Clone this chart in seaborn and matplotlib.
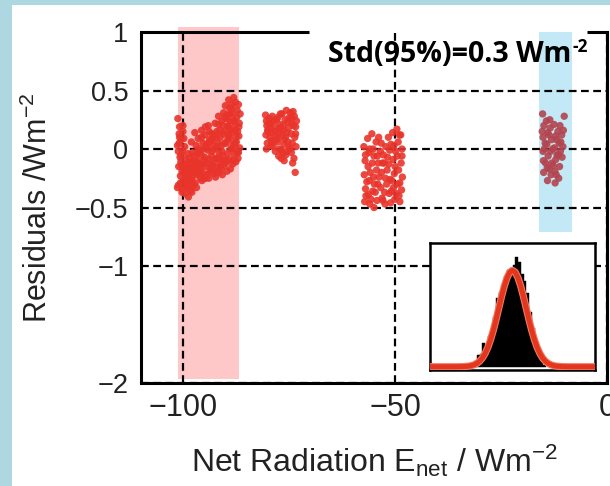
import matplotlib
matplotlib.use("Agg")
import matplotlib.pyplot as plt
import matplotlib.patheffects as pe
from matplotlib.patches import Rectangle
import pandas as pd
import seaborn as sns

# ---------------- data ----------------
# cluster 1 (around -94 W/m2)
x1 = [-101.3, -101.0, -101.4, -100.8, -101.1, -100.7, -101.2, -100.9,
      -100.5, -100.2, -100.6, -100.3, -100.0, -100.4, -100.1, -100.5,
      -99.7, -99.4, -99.8, -99.5, -99.2, -99.6, -99.3, -99.9,
      -98.9, -98.6, -99.0, -98.7, -98.4, -98.8, -98.5,
      -98.1, -97.8, -98.2, -97.9, -97.6, -98.0, -97.7,
      -97.3, -97.0, -97.4, -97.1, -96.8, -97.2,
      -96.5, -96.2, -96.6, -96.3, -96.0, -96.4,
      -95.7, -95.4, -95.8, -95.5, -95.2, -95.6,
      -94.9, -94.6, -95.0, -94.7, -94.4, -94.8,
      -94.1, -93.8, -94.2, -93.9, -93.6, -94.0,
      -93.3, -93.0, -93.4, -93.1, -92.8, -93.2,
      -92.5, -92.2, -92.6, -92.3, -92.0, -92.4, -92.1,
      -91.7, -91.4, -91.8, -91.5, -91.2, -91.6, -91.3,
      -90.9, -90.6, -91.0, -90.7, -90.4, -90.8, -90.5,
      -90.1, -89.8, -90.2, -89.9, -89.6, -90.0, -89.7, -89.5,
      -89.3, -89.0, -89.4, -89.1, -88.8, -89.2, -88.9, -88.7,
      -88.5, -88.2, -88.6, -88.3, -88.0, -88.4, -88.1, -87.9,
      -87.7, -87.4, -87.8, -87.5, -87.2, -87.6, -87.3,
      -87.0, -86.8, -86.9, -86.7, -87.1, -86.6,
      -101.0, -100.4, -99.9, -99.1, -98.3, -97.5, -96.7, -95.9, -95.1, -94.3,
      -93.5, -92.7, -91.9, -91.1, -90.3, -89.5, -88.7, -87.9, -87.2,
      -101.2, -100.7, -99.6, -98.9, -98.0, -97.2, -96.1, -95.3, -94.5, -93.7,
      -92.9, -92.0, -91.3, -90.5, -89.7, -88.9, -88.2, -87.6, -86.9,
      -100.9, -100.1, -99.4, -98.6, -97.8, -96.9, -96.0, -95.0, -94.1, -93.2,
      -92.4, -91.5, -90.7, -89.9, -89.1, -88.4, -87.7, -87.0,
      -101.4, -100.3, -99.2, -98.1, -97.0, -95.7, -94.8, -93.9, -92.6, -91.7,
      -90.9, -90.1, -89.3, -88.6, -87.8]
y1 = [0.26, 0.13, 0.03, -0.07, -0.15, -0.23, -0.31, 0.19,
      0.08, -0.02, -0.11, -0.19, -0.27, -0.34, 0.15, -0.05,
      0.02, -0.09, -0.17, -0.25, -0.32, -0.38, -0.13, 0.09,
      -0.04, -0.12, -0.20, -0.28, -0.36, -0.41, -0.08,
      0.06, -0.03, -0.16, -0.24, -0.31, -0.37, -0.10,
      0.14, 0.03, -0.06, -0.14, -0.22, -0.29,
      0.09, -0.02, -0.10, -0.18, -0.25, 0.00,
      0.16, 0.05, -0.05, -0.13, -0.21, -0.27,
      0.12, 0.01, -0.07, -0.15, -0.22, 0.19,
      0.20, 0.08, -0.01, -0.09, -0.17, -0.25,
      0.13, 0.03, -0.06, -0.14, -0.21, 0.08,
      0.22, 0.10, 0.00, -0.08, -0.16, -0.24, 0.15,
      0.28, 0.16, 0.05, -0.04, -0.12, -0.20, 0.10,
      0.24, 0.13, 0.03, -0.06, -0.14, -0.22, 0.31,
      0.37, 0.26, 0.15, 0.05, -0.04, -0.12, -0.19, 0.20,
      0.42, 0.30, 0.19, 0.09, 0.00, -0.09, -0.17, 0.24,
      0.35, 0.24, 0.14, 0.04, -0.05, -0.13, 0.44, 0.19,
      0.40, 0.27, 0.16, 0.06, -0.03, -0.11, 0.33,
      0.38, 0.22, 0.11, 0.01, -0.08, 0.30,
      0.05, -0.14, -0.21, -0.16, -0.20, -0.15, -0.04, -0.17, -0.09, -0.12,
      0.07, -0.20, -0.08, -0.17, 0.05, 0.09, 0.00, 0.24, 0.15,
      -0.02, -0.29, -0.30, -0.33, -0.27, -0.20, -0.21, 0.00, 0.04, -0.19,
      -0.12, 0.02, -0.15, -0.10, 0.29, 0.16, -0.10, 0.10, 0.19,
      0.10, 0.20, -0.23, -0.25, -0.19, -0.33, -0.13, -0.25, 0.05, -0.02,
      -0.19, -0.08, 0.20, -0.10, 0.35, 0.30, 0.00, -0.03,
      -0.33, -0.37, -0.28, -0.34, -0.11, 0.10, -0.25, 0.15, 0.12, 0.21,
      -0.02, 0.27, 0.12, 0.38, 0.05]

# cluster 2 (around -77 W/m2)
x2 = [-80.6, -80.3, -80.5, -80.2, -80.4, -80.1,
      -79.7, -79.4, -79.6, -79.3, -79.5, -79.2,
      -78.7, -78.4, -78.6, -78.3, -78.5, -78.2,
      -77.7, -77.4, -77.6, -77.3, -77.5, -77.2, -77.45,
      -76.7, -76.4, -76.6, -76.3, -76.5, -76.2, -76.35,
      -75.7, -75.4, -75.6, -75.3, -75.5, -75.2,
      -74.7, -74.4, -74.6, -74.3, -74.5, -74.2, -74.45,
      -73.8, -73.5, -73.7, -73.4, -73.6, -73.9,
      -80.4, -79.9, -79.1, -78.8, -78.0, -77.8, -77.0, -76.8, -76.0, -75.9,
      -75.0, -74.9, -74.0, -73.5, -80.0, -79.0, -78.1, -77.1, -76.1, -75.1,
      -74.1, -73.3, -76.9, -75.8]
y2 = [0.29, 0.20, 0.12, 0.05, 0.24, 0.16,
      0.26, 0.18, 0.10, 0.03, 0.22, 0.07,
      0.24, 0.15, 0.07, -0.02, 0.19, 0.11,
      0.27, 0.17, 0.09, 0.00, -0.06, 0.21, 0.13,
      0.30, 0.20, 0.12, 0.04, -0.04, -0.10, 0.16,
      0.33, 0.23, 0.14, 0.06, -0.02, 0.18,
      0.31, 0.22, 0.13, 0.05, -0.03, -0.12, 0.27,
      0.28, 0.19, 0.10, 0.02, -0.20, -0.08,
      0.00, 0.22, 0.14, 0.02, 0.25, 0.06, 0.18, -0.01, 0.25, 0.10,
      0.27, 0.00, 0.20, 0.13, 0.15, 0.28, 0.08, 0.30, 0.08, 0.02,
      0.32, 0.24, -0.08, -0.05]

# cluster 3 (around -53 W/m2)
x3 = [-57.4, -57.1, -57.3, -57.0, -57.2,
      -56.5, -56.2, -56.4, -56.1, -56.3, -56.0,
      -55.5, -55.2, -55.4, -55.1, -55.3, -55.0,
      -54.5, -54.2, -54.4, -54.1, -54.3,
      -53.5, -53.2, -53.4, -53.1, -53.3,
      -52.6, -52.3, -52.5, -52.2, -52.4,
      -51.6, -51.3, -51.5, -51.2, -51.4, -51.1,
      -50.6, -50.3, -50.5, -50.2, -50.4, -50.1,
      -49.6, -49.3, -49.5, -49.2, -49.4, -49.1,
      -48.7, -48.4, -48.6, -48.3, -48.5,
      -57.0, -56.7, -56.0, -55.7, -55.0, -54.7, -54.0, -53.8, -53.0, -52.9,
      -52.0, -51.8, -51.0, -50.8, -50.0, -49.8, -49.0, -48.9, -48.4,
      -56.9, -55.9, -54.9, -53.9, -52.8, -51.9, -50.9, -49.9, -48.9]
y3 = [0.02, -0.10, -0.22, -0.34, -0.45,
      0.09, -0.03, -0.15, -0.27, -0.39, -0.47,
      0.13, 0.00, -0.12, -0.24, -0.36, -0.50,
      0.06, -0.06, -0.18, -0.30, -0.44,
      -0.02, -0.20, -0.33, -0.42, 0.05,
      -0.12, -0.25, -0.37, 0.02, -0.47,
      0.10, -0.01, -0.13, -0.26, -0.38, -0.46,
      0.14, 0.03, -0.09, -0.21, -0.33, -0.43,
      0.17, 0.06, -0.06, -0.18, -0.30, -0.40,
      0.12, 0.00, -0.12, -0.24, -0.35,
      -0.05, -0.28, 0.00, -0.43, -0.06, -0.37, -0.12, -0.24, -0.12, -0.44,
      -0.30, -0.07, 0.04, -0.27, -0.15, -0.38, 0.12, -0.45, -0.06,
      -0.40, -0.20, -0.30, 0.10, -0.05, -0.18, -0.36, -0.02, -0.29]

# cluster 4 (around -13 W/m2, highlighted blue)
x4 = [-15.2, -14.9, -15.1, -14.8, -15.0, -14.95,
      -14.3, -14.0, -14.2, -13.9, -14.1, -14.05,
      -13.4, -13.1, -13.3, -13.0, -13.2,
      -12.5, -12.2, -12.4, -12.1, -12.3, -12.25,
      -11.6, -11.3, -11.5, -11.2, -11.4,
      -10.7, -10.4, -10.6, -10.3, -10.1,
      -15.3, -14.6, -13.7, -12.8, -11.9, -11.0, -14.5, -13.6, -12.7, -11.8,
      -10.9, -15.1, -13.5, -12.0, -11.1]
y4 = [0.30, 0.20, 0.10, 0.00, -0.10, -0.20,
      0.24, 0.14, 0.04, -0.06, -0.16, -0.27,
      0.18, 0.08, -0.02, -0.12, -0.22,
      0.21, 0.11, 0.01, -0.09, -0.19, -0.29,
      0.15, 0.05, -0.05, -0.15, -0.25,
      0.12, 0.02, -0.07, 0.16, 0.28,
      0.15, 0.05, 0.12, 0.00, 0.08, -0.02, -0.12, -0.17, -0.14, -0.05,
      0.06, -0.02, 0.25, -0.22, 0.20]

# highlight bands (x extents, W/m2)
band_red = (-101.3, -86.9)
band_blue = (-16.0, -8.3)

# axis ticks
x_ticks = [-100, -50, 0]
x_ticklabels = ["\u2212100", "\u221250", "0"]
y_ticks = [1, 0.5, 0, -0.5, -1, -2]
y_ticklabels = ["1", "0.5", "0", "\u22120.5", "\u22121", "\u22122"]

# inset histogram of residuals
hist_centers = [-0.725, -0.675, -0.625, -0.575, -0.525, -0.475, -0.425, -0.375,
                -0.325, -0.275, -0.225, -0.175, -0.125, -0.075, -0.025, 0.025,
                0.075, 0.125, 0.175, 0.225, 0.275, 0.325, 0.375, 0.425,
                0.475, 0.525, 0.575]
hist_counts = [3, 5, 11, 12, 22, 20, 28, 35, 45, 63, 68, 75, 82, 88, 90, 93,
               100, 96, 85, 78, 67, 50, 35, 22, 12, 5, 2]
fit_x = [-1.5, -1.0, -0.9, -0.8, -0.75, -0.7, -0.65, -0.6, -0.55, -0.5, -0.45,
         -0.4, -0.35, -0.3, -0.25, -0.2, -0.15, -0.1, -0.05, 0.0, 0.05, 0.1,
         0.15, 0.2, 0.25, 0.3, 0.35, 0.4, 0.45, 0.5, 0.55, 0.6, 0.65, 0.7,
         0.75, 0.8, 0.9, 1.0, 1.5]
fit_y = [0, 0, 0.1, 0.5, 1.0, 1.7, 3.0, 4.9, 7.8, 11.9, 17.4,
         24.5, 33.0, 42.8, 53.4, 63.9, 73.5, 81.2, 86.3, 88.0, 86.3, 81.2,
         73.5, 63.9, 53.4, 42.8, 33.0, 24.5, 17.4, 11.9, 7.8, 4.9, 3.0, 1.7,
         1.0, 0.5, 0.1, 0, 0]

std_text = "Std(95%)=0.3 Wm"

# ---------------- figure ----------------
sns.set_theme(style="white")
plt.rcParams['font.family'] = ['Liberation Sans', 'DejaVu Sans']
plt.rcParams['mathtext.fontset'] = 'custom'
plt.rcParams['mathtext.rm'] = 'Liberation Sans'
plt.rcParams['mathtext.it'] = 'Liberation Sans:italic'
plt.rcParams['mathtext.bf'] = 'Liberation Sans:bold'
plt.rcParams['axes.unicode_minus'] = True

W, H = 610, 486
fig = plt.figure(figsize=(W / 100, H / 100), dpi=100, facecolor='#aed8e1')
fig.add_artist(Rectangle((12 / W, 0), 1, 481 / H, transform=fig.transFigure,
                         facecolor='white', edgecolor='none', zorder=0))

ax = fig.add_axes([141 / W, 1 - 383 / H, 466 / W, 351 / H])
ax.set_facecolor('white')

df = pd.DataFrame({
    'x': x1 + x2 + x3 + x4,
    'y': y1 + y2 + y3 + y4,
    'grp': ['a'] * len(x1) + ['b'] * len(x2) + ['c'] * len(x3) + ['d'] * len(x4),
})

# bands
ax.axvspan(band_red[0], band_red[1], ymin=4 / 351, ymax=(383 - 27) / 351,
           facecolor='#ffc8c8', edgecolor='none', zorder=0.3, clip_on=False)
ax.axvspan(band_blue[0], band_blue[1], ymin=(383 - 232) / 351, ymax=1.0,
           facecolor='#c3e9f6', edgecolor='none', zorder=0.3)

sns.scatterplot(data=df, x='x', y='y', hue='grp',
                palette={'a': '#e8342b', 'b': '#e8342b', 'c': '#e8342b', 'd': '#b2444f'},
                s=28, linewidth=0, alpha=0.9, legend=False, ax=ax, zorder=3)

ax.set_xlim(-110, 0)
ax.set_ylim(-2, 1)
ax.set_xticks(x_ticks)
ax.set_xticklabels(x_ticklabels, fontsize=22)
ax.set_yticks(y_ticks)
ax.set_yticklabels(y_ticklabels, fontsize=19.5)
ax.tick_params(axis='both', length=0, colors='#222222')
ax.tick_params(axis='x', pad=7)
ax.tick_params(axis='y', pad=9)

ax.set_axisbelow(True)
ax.grid(True, color='black', linestyle=(0, (3.5, 2)), linewidth=1.6)
# no grid line on the top edge (it is the frame)
for loc, tk in zip(ax.yaxis.get_majorticklocs(), ax.yaxis.get_major_ticks()):
    if loc >= 1:
        tk.gridline.set_visible(False)

for side in ['left', 'bottom', 'right']:
    ax.spines[side].set_color('black')
    ax.spines[side].set_linewidth(2.2)
ax.spines['top'].set_visible(False)
ax.plot([0, (309 - 141) / 466], [1, 1], transform=ax.transAxes, color='black',
        lw=2.2, clip_on=False, solid_capstyle='butt', zorder=4)
ax.plot([(587 - 141) / 466, 1.0], [1, 1], transform=ax.transAxes, color='black',
        lw=2.2, clip_on=False, solid_capstyle='butt', zorder=4)

ax.set_xlabel(r'Net Radiation E$_{\mathrm{net}}$ / Wm$^{-2}$', fontsize=23,
              labelpad=14, color='#222222')
ax.set_ylabel(r'Residuals /Wm$^{-2}$', fontsize=22, labelpad=15, color='#222222')

t = ax.text((328 - 141) / 466, (383 - 55) / 351, std_text, transform=ax.transAxes,
            ha='left', va='center', fontsize=20.5, fontweight='bold',
            family=['Open Sans', 'DejaVu Sans'], color='black', zorder=5)
ax.annotate('-2', xy=(1, 1), xycoords=t, xytext=(0.5, -11), textcoords='offset points',
            ha='left', va='bottom', fontsize=12.5, fontweight='bold',
            family=['Open Sans', 'DejaVu Sans'], color='black', zorder=5)

# inset
axin = fig.add_axes([430 / W, 1 - 370 / H, 165 / W, 127 / H])
axin.set_facecolor('white')
sns.histplot(x=hist_centers, weights=hist_counts, binwidth=0.05,
             binrange=(-0.75, 0.6), color='black', alpha=1, edgecolor='black',
             linewidth=0.3, ax=axin, zorder=2)
sns.lineplot(x=fit_x, y=fit_y, color='#e4361f', lw=3.6, ax=axin, zorder=3,
             path_effects=[pe.Stroke(linewidth=5.2, foreground='#f07a5e'), pe.Normal()])
axin.set_xlim(-1.5, 1.5)
axin.set_ylim(-3, 113)
axin.set_xticks([])
axin.set_yticks([])
axin.set_xlabel('')
axin.set_ylabel('')
for s in axin.spines.values():
    s.set_color('black')
    s.set_linewidth(1.8)

fig.savefig('out.png', dpi=100, facecolor=fig.get_facecolor())
